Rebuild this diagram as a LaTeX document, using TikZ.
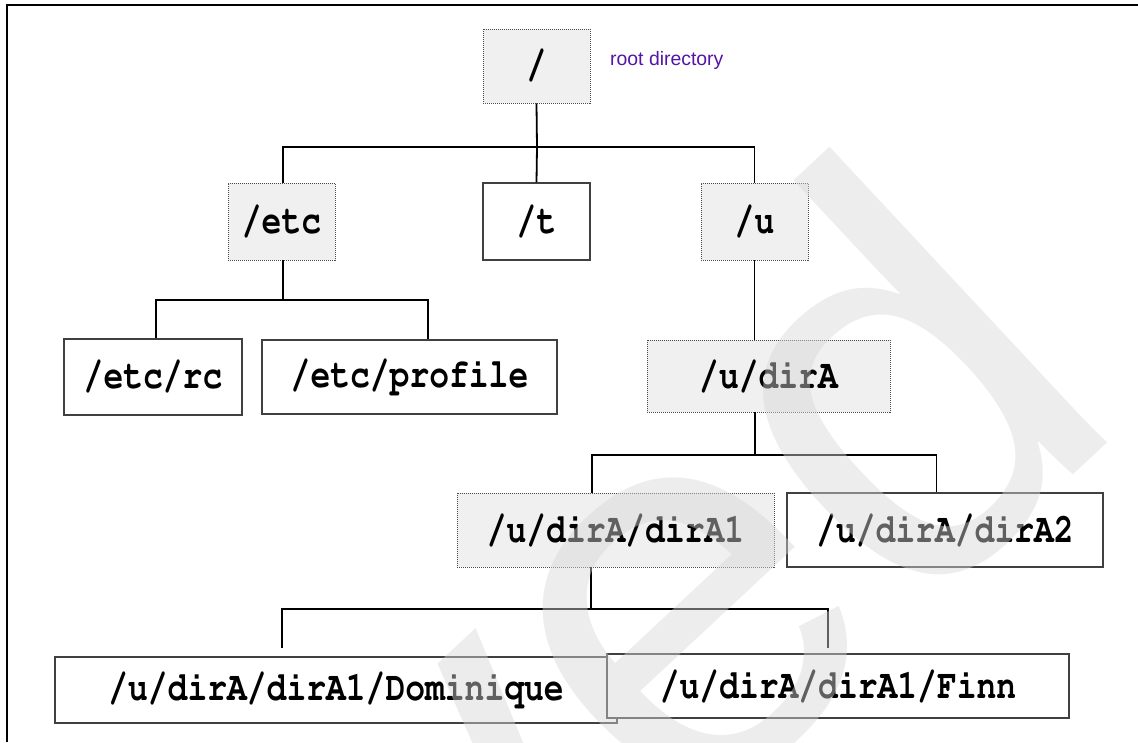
\documentclass[tikz,border=0pt]{standalone}
\usepackage[T1,TU]{fontenc}
\usepackage{fontspec}
\setmainfont{Liberation Sans}
\setsansfont{Liberation Sans}
\setmonofont{Liberation Mono}
\definecolor{labelpurple}{RGB}{85,20,165}
\definecolor{dirfill}{RGB}{240,240,240}
\definecolor{markgray}{RGB}{215,215,215}
% typewriter bold (Courier) for the directory names
\newcommand{\dirfont}{\fontencoding{T1}\fontfamily{pcr}\fontseries{b}\fontshape{n}\fontsize{33}{40}\selectfont}
\newcommand{\dirname}[1]{\scalebox{1}[1.25]{#1}}
\begin{document}
\begin{tikzpicture}[x=1pt,y=-1pt,
  path/.style={font=\dirfont, inner sep=0pt, align=center},
  plainbox/.style={path, draw=black!75, line width=1.2pt, fill=white},
  homebox/.style={path, draw=black!70, line width=0.9pt, dash pattern=on 1pt off 1pt, fill=dirfill},
  conn/.style={line width=1.8pt, black},
  frame/.style={line width=1.2pt, black}]
\useasboundingbox (0,0) rectangle (1138,742);

% outer frame (top and left edges)
\draw[frame] (1138,5) -- (7,5) -- (7,742);

% directory boxes
\node[homebox, minimum width=107pt, minimum height=74pt] (root) at (536.5,66) {\dirname{/}};
\node[font=\sffamily\fontsize{19.4}{22}\selectfont, text=labelpurple, anchor=west, inner sep=0pt] (rootlbl) at (610,60) {root directory};

\node[homebox, minimum width=107pt, minimum height=77pt] (etc) at (281.5,221.5) {\dirname{/etc}};
\node[plainbox, minimum width=107pt, minimum height=77pt] (t) at (536.5,221.5) {\dirname{/t}};
\node[homebox, minimum width=107pt, minimum height=77pt] (u) at (754.5,221.5) {\dirname{/u}};

\node[plainbox, minimum width=178pt, minimum height=76pt] (rc) at (153,377) {\dirname{/etc/rc}};
\node[plainbox, minimum width=295pt, minimum height=74pt] (profile) at (409.5,377) {\dirname{/etc/profile}};
\node[homebox, minimum width=243pt, minimum height=72pt] (dirA) at (768.5,376) {\dirname{/u/dirA}};

\node[homebox, minimum width=317pt, minimum height=74pt] (dirA1) at (615.5,530) {\dirname{/u/dirA/dirA1}};
\node[plainbox, minimum width=316pt, minimum height=74pt] (dirA2) at (945,530) {\dirname{/u/dirA/dirA2}};

\node[plainbox, minimum width=562pt, minimum height=66pt] (dom) at (336,690) {\dirname{/u/dirA/dirA1/Dominique}};
\node[plainbox, minimum width=462pt, minimum height=64pt] (finn) at (838,686) {\dirname{/u/dirA/dirA1/Finn}};

% bus junctions
\coordinate (b0) at (537,147);
\coordinate (e1) at (283,300);
\coordinate (e1l) at (155.7,300);
\coordinate (e1r) at (427.7,300);
\coordinate (j3) at (755,455);
\coordinate (j3l) at (592,455);
\coordinate (j3r) at (936.5,455);
\coordinate (j4) at (591,609);
\coordinate (j4l) at (282,609);
\coordinate (j4r) at (827.6,609);
\coordinate (d4l) at (282,648);
\coordinate (d4r) at (827.6,648);

% connectors
\draw[conn] (root.south) -- (b0);
\draw[conn] (etc.north -| e1) |- (b0) -| (u.north);
\draw[conn] (b0) -- (t.north);

\draw[conn] (etc.south -| e1) -- (e1);
\draw[conn] (rc.north -| e1l) -- (e1l) -- (e1r) -- (profile.north -| e1r);

\draw[conn] (u.south) -- (u.south |- dirA.north);

\draw[conn] (dirA.south -| j3) -- (j3);
\draw[conn] (dirA1.north -| j3l) -- (j3l) -- (j3r) -- (dirA2.north -| j3r);

\draw[conn] (dirA1.south -| j4) -- (j4);
\draw[conn] (d4l) -- (j4l) -- (j4r) -- (d4r);

% faint diagonal watermark
\begin{scope}
  \clip (0,0) rectangle (1138,742);
  \node[rotate=43, anchor=base east, inner sep=0pt, text=markgray, text opacity=0.45,
        font=\sffamily\fontsize{560}{560}\selectfont] (mark) at (1135,418) {Archived};
\end{scope}
\end{tikzpicture}
\end{document}
